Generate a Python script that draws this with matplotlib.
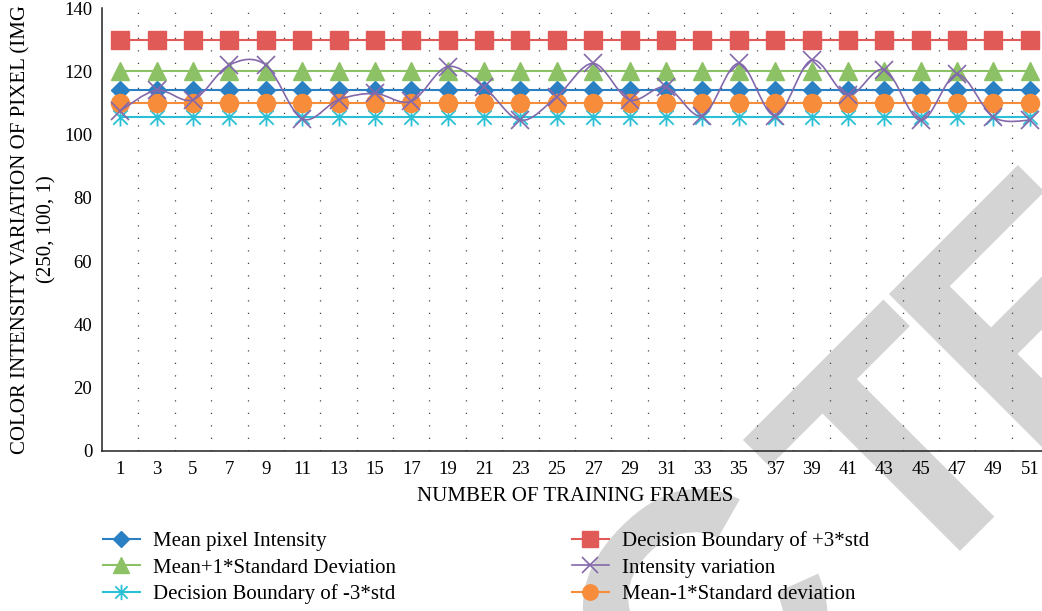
import numpy as np
import matplotlib
matplotlib.use("Agg")
import matplotlib.pyplot as plt
from matplotlib.path import Path
from matplotlib.patches import PathPatch
from matplotlib.lines import Line2D
from matplotlib.textpath import TextPath
from matplotlib.font_manager import FontProperties
from matplotlib.transforms import Affine2D

plt.rcParams["font.family"] = ["Liberation Serif", "DejaVu Serif"]

# training frame labels (one category per frame)
frames = [1, 3, 5, 7, 9, 11, 13, 15, 17, 19, 21, 23, 25,
          27, 29, 31, 33, 35, 37, 39, 41, 43, 45, 47, 49, 51]

mean_pixel = [114] * len(frames)
plus_3std = [130] * len(frames)
plus_1std = [120] * len(frames)
minus_3std = [105.5] * len(frames)
minus_1std = [110] * len(frames)
intensity = [107.5, 114, 111, 122, 122, 105, 111, 113, 110.5, 121.5, 115, 104.5, 112,
             122.5, 111, 115, 106, 122.5, 106, 123.5, 112.5, 120.5, 104.5, 119, 105.5, 104.5]

BLUE = "#2b7fc3"
RED = "#e05a57"
GREEN = "#8cc265"
PURPLE = "#8468ac"
CYAN = "#2bc0d5"
ORANGE = "#f78c3b"

# six-armed asterisk marker
asterisk = Path(
    [(0, -1), (0, 1), (-0.8, -0.8), (0.8, 0.8), (-0.8, 0.8), (0.8, -0.8)],
    [Path.MOVETO, Path.LINETO, Path.MOVETO, Path.LINETO, Path.MOVETO, Path.LINETO],
)


def smooth_path(xs, ys):
    # cubic bezier segments through every point (catmull-rom tangents)
    pts = np.column_stack([xs, ys]).astype(float)
    ext = np.vstack([pts[0], pts, pts[-1]])
    verts = [tuple(pts[0])]
    codes = [Path.MOVETO]
    for i in range(len(pts) - 1):
        p0, p1, p2, p3 = ext[i], ext[i + 1], ext[i + 2], ext[i + 3]
        c1 = p1 + (p2 - p0) / 6.0
        c2 = p2 - (p3 - p1) / 6.0
        verts += [tuple(c1), tuple(c2), tuple(p2)]
        codes += [Path.CURVE4] * 3
    return Path(verts, codes)


fig = plt.figure(figsize=(10.42, 6.11), dpi=100)
ax = fig.add_axes([0.0979, 0.2619, 0.9079, 0.7250])
ax.set_facecolor("none")

x = np.arange(len(frames))
lw = 1.5

ax.plot(x, mean_pixel, color=BLUE, lw=lw, marker="D", ms=9.2, zorder=3)
ax.plot(x, plus_3std, color=RED, lw=lw, marker="s", ms=13, zorder=3)
ax.plot(x, plus_1std, color=GREEN, lw=lw, marker="^", ms=13, zorder=3)
ax.add_patch(PathPatch(smooth_path(x, intensity), facecolor="none",
                       edgecolor=PURPLE, lw=1.2, zorder=4))
ax.plot(x, intensity, color=PURPLE, ls="none", marker="x", ms=13, mew=1.2, zorder=4)
ax.plot(x, minus_3std, color=CYAN, lw=lw, marker=asterisk, ms=13, mew=1.3, zorder=3)
ax.plot(x, minus_1std, color=ORANGE, lw=lw, marker="o", ms=13, zorder=3)

ax.set_xlim(-0.5, len(frames) - 0.5)
ax.set_ylim(0, 140)
ax.set_xticks(x)
ax.set_xticklabels([str(f) for f in frames])
ax.set_yticks(np.arange(0, 141, 20))
ax.set_xticks(np.arange(0.5, len(frames) - 1, 1), minor=True)
ax.grid(which="minor", axis="x", color="#444444", lw=0.9, linestyle=(0, (1, 9)))
ax.tick_params(axis="both", which="both", length=0, labelsize=13.5, pad=7)

for side in ("top", "right"):
    ax.spines[side].set_visible(False)
for side in ("left", "bottom"):
    ax.spines[side].set_color("#222222")
    ax.spines[side].set_linewidth(1.1)

ax.set_xlabel("NUMBER OF TRAINING FRAMES", fontsize=15, labelpad=7)
fig.text(0.0322, 0.6244, "COLOR INTENSITY VARIATION OF PIXEL (IMG\n(250, 100, 1)",
         rotation=90, ha="center", va="center", multialignment="center",
         fontsize=15, linespacing=1.5)

handles = [
    Line2D([], [], color=BLUE, lw=lw, marker="D", ms=9.2),
    Line2D([], [], color=GREEN, lw=lw, marker="^", ms=13),
    Line2D([], [], color=CYAN, lw=lw, marker=asterisk, ms=13, mew=1.3),
    Line2D([], [], color=RED, lw=lw, marker="s", ms=13),
    Line2D([], [], color=PURPLE, lw=1.2, marker="x", ms=13, mew=1.2),
    Line2D([], [], color=ORANGE, lw=lw, marker="o", ms=13),
]
labels = [
    "Mean pixel Intensity",
    "Mean+1*Standard Deviation",
    "Decision Boundary of -3*std",
    "Decision Boundary of +3*std",
    "Intensity variation",
    "Mean-1*Standard deviation",
]
fig.legend(handles, labels, loc="upper left", bbox_to_anchor=(0.099, 0.130),
           ncol=2, frameon=False, fontsize=15, handlelength=1.75,
           handletextpad=0.65, columnspacing=8.45, labelspacing=0.32,
           markerscale=0.85, borderpad=0, borderaxespad=0)

# grey diagonal stamp behind the chart, built from glyph outlines (pixel units)
stamp_font = FontProperties(family="Liberation Sans", weight="bold")
cap = TextPath((0, 0), "T", size=100, prop=stamp_font).get_extents().ymax / 100
size = 232 / cap


def glyphs(s):
    return TextPath((0, 0), s, size=size, prop=stamp_font)


t_box = glyphs("T").get_extents()
lead = glyphs("RETRACT").get_extents().xmax - t_box.xmax
t_adv = glyphs("TE").get_extents().xmax - glyphs("E").get_extents().xmax
rot = Affine2D().rotate_deg(45)
ox, oy = rot.transform((t_box.xmin, 0))
# origin of the second T so its lower-left ink corner sits at (907, 7) px
base_x, base_y = 907 - ox, 7 - oy

pieces = [
    ("RETRAC", -lead, (-35, -5)),
    ("T", 0, (0, 0)),
    ("ED", t_adv, (-13, -13)),
]
for text, shift, (dx, dy) in pieces:
    px, py = rot.transform((shift, 0))
    fig.add_artist(PathPatch(
        glyphs(text), facecolor="#d4d4d4", edgecolor="none", zorder=-5,
        transform=Affine2D().rotate_deg(45).translate(base_x + px + dx, base_y + py + dy)))

fig.savefig("out.png", dpi=100)
